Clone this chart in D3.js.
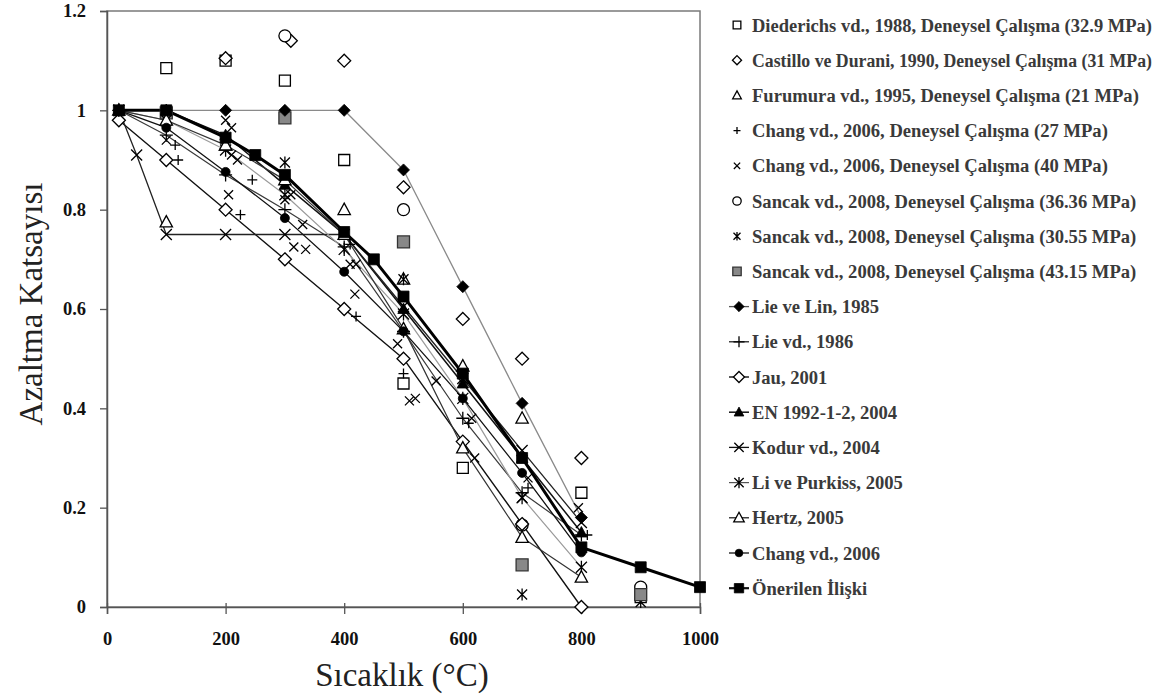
<!DOCTYPE html>
<html>
<head>
<meta charset="utf-8">
<script src="https://cdn.jsdelivr.net/npm/d3@7"></script>
<style>
body { margin: 0; background: #fff; }
svg text { font-family: "Liberation Serif", "Times New Roman", serif; }
</style>
</head>
<body>
<svg id="chart" width="1175" height="697"></svg>
<script>
// Deneysel veriler (sicaklik, azaltma katsayisi)
var diederichs = [[100,1.085],[200,1.10],[300,1.06],[400,0.90],[500,0.45],[600,0.28],[800,0.23],[900,0.02]];
var castillo = [[200,1.105],[310,1.14],[400,1.10],[500,0.845],[600,0.58],[700,0.50],[800,0.30]];
var furumura = [[100,0.775],[200,0.93],[400,0.80],[500,0.66],[600,0.485],[700,0.38]];
var chang27 = [[115,0.93],[120,0.90],[225,0.79],[245,0.86],[410,0.73],[420,0.585],[500,0.47],[610,0.37],[710,0.24],[810,0.145]];
var chang40 = [[100,0.94],[200,0.98],[210,0.965],[210,0.91],[220,0.90],[205,0.83],[300,0.82],[310,0.83],[330,0.77],[315,0.725],[335,0.72],
	[410,0.69],[420,0.69],[418,0.63],[490,0.53],[510,0.415],[520,0.42],[555,0.455],[615,0.38],[620,0.30],[700,0.22],[710,0.26],[795,0.20]];
var sancak36 = [[300,1.15],[500,0.80],[700,0.165],[900,0.04]];
var sancak30 = [[300,0.895],[500,0.66],[700,0.025],[900,0.01]];
var sancak43 = [[100,0.995],[300,0.985],[500,0.735],[700,0.085],[900,0.025]];

// Modeller
var lieLin = [[20,1],[100,1],[200,1],[300,1],[400,1],[500,0.88],[600,0.645],[700,0.41],[800,0.18]];
var lie1986 = [[20,1],[100,0.95],[200,0.87],[300,0.80],[400,0.725],[500,0.555],[600,0.38],[700,0.23],[800,0.145]];
var jau = [[20,0.98],[100,0.90],[200,0.80],[300,0.70],[400,0.60],[500,0.50],[600,0.333],[700,0.167],[800,0.0]];
var en1992 = [[20,1],[100,1],[200,0.95],[300,0.85],[400,0.75],[500,0.60],[600,0.45],[700,0.30],[800,0.15]];
var kodur = [[20,1],[50,0.91],[100,0.75],[200,0.75],[300,0.75],[400,0.75],[500,0.605],[600,0.46],[700,0.315],[800,0.17]];
var liPurkiss = [[20,1],[100,0.98],[200,0.92],[300,0.83],[400,0.72],[500,0.59],[600,0.42],[700,0.22],[800,0.08]];
var hertz = [[20,1],[100,0.98],[200,0.93],[300,0.86],[400,0.75],[500,0.56],[600,0.32],[700,0.14],[800,0.06]];
var changModel = [[20,1],[100,0.965],[200,0.876],[300,0.783],[400,0.675],[500,0.555],[600,0.42],[700,0.27],[800,0.11]];
var onerilen = [[20,1],[100,1],[200,0.945],[250,0.91],[300,0.87],[400,0.755],[450,0.70],[500,0.625],[600,0.47],[700,0.30],[800,0.12],[900,0.08],[1000,0.04]];

var xTicks = [0, 200, 400, 600, 800, 1000];
var yTicks = [0, 0.2, 0.4, 0.6, 0.8, 1, 1.2];

var series = [
	{name: 'Diederichs vd., 1988, Deneysel Çalışma (32.9 MPa)', data: diederichs, m: 'square', s: 5.5, fill: '#fff'},
	{name: 'Castillo ve Durani, 1990, Deneysel Çalışma (31 MPa)', data: castillo, m: 'diamond', s: 6.5, fill: '#fff'},
	{name: 'Furumura vd., 1995, Deneysel Çalışma (21 MPa)', data: furumura, m: 'triangle', s: 6.5, fill: '#fff'},
	{name: 'Chang vd., 2006, Deneysel Çalışma (27 MPa)', data: chang27, m: 'plus', s: 5, fill: 'none'},
	{name: 'Chang vd., 2006, Deneysel Çalışma (40 MPa)', data: chang40, m: 'x', s: 4.5, fill: 'none'},
	{name: 'Sancak vd., 2008, Deneysel Çalışma (36.36 MPa)', data: sancak36, m: 'circle', s: 6, fill: '#fff'},
	{name: 'Sancak vd., 2008, Deneysel Çalışma (30.55 MPa)', data: sancak30, m: 'asterisk', s: 5, fill: 'none'},
	{name: 'Sancak vd., 2008, Deneysel Çalışma (43.15 MPa)', data: sancak43, m: 'square', s: 6, fill: '#888'},
	{name: 'Lie ve Lin, 1985', data: lieLin, m: 'diamond', s: 6, fill: '#000', line: '#8a8a8a', lw: 1.3},
	{name: 'Lie vd., 1986', data: lie1986, m: 'plus', s: 6.5, fill: 'none', line: '#3a3a3a', lw: 1.2},
	{name: 'Jau, 2001', data: jau, m: 'diamond', s: 6.5, fill: '#fff', line: '#111', lw: 1.4},
	{name: 'EN 1992-1-2, 2004', data: en1992, m: 'triangle', s: 6, fill: '#000', line: '#111', lw: 1.5},
	{name: 'Kodur vd., 2004', data: kodur, m: 'x', s: 5.5, fill: 'none', line: '#222', lw: 1.3},
	{name: 'Li ve Purkiss, 2005', data: liPurkiss, m: 'asterisk', s: 5.5, fill: 'none', line: '#9a9a9a', lw: 1.2},
	{name: 'Hertz, 2005', data: hertz, m: 'triangle', s: 6.5, fill: '#fff', line: '#333', lw: 1.2},
	{name: 'Chang vd., 2006', data: changModel, m: 'circle', s: 4.5, fill: '#000', line: '#111', lw: 1.3},
	{name: 'Önerilen İlişki', data: onerilen, m: 'square', s: 5.5, fill: '#000', line: '#000', lw: 3}
];

var svg = d3.select('#chart');
var x = d3.scaleLinear().domain([0, 1000]).range([107, 700]);
var y = d3.scaleLinear().domain([0, 1.2]).range([607, 11]);
var serif = '"Liberation Serif", "Times New Roman", serif';

// marker shapes, s = half size
function markerPath(m, s){
	if (m == 'square') return 'M' + (-s) + ',' + (-s) + 'h' + 2*s + 'v' + 2*s + 'h' + (-2*s) + 'Z';
	if (m == 'diamond') return 'M0,' + (-s) + 'L' + s + ',0L0,' + s + 'L' + (-s) + ',0Z';
	if (m == 'triangle') return 'M0,' + (-s) + 'L' + (0.95*s) + ',' + (0.75*s) + 'L' + (-0.95*s) + ',' + (0.75*s) + 'Z';
	if (m == 'circle') return 'M' + (-s) + ',0a' + s + ',' + s + ' 0 1,0 ' + 2*s + ',0a' + s + ',' + s + ' 0 1,0 ' + (-2*s) + ',0Z';
	if (m == 'plus') return 'M' + (-s) + ',0H' + s + 'M0,' + (-s) + 'V' + s;
	if (m == 'x') return 'M' + (-s) + ',' + (-s) + 'L' + s + ',' + s + 'M' + (-s) + ',' + s + 'L' + s + ',' + (-s);
	// asterisk
	return 'M' + (-s) + ',' + (-s) + 'L' + s + ',' + s + 'M' + (-s) + ',' + s + 'L' + s + ',' + (-s) + 'M0,' + (-1.2*s) + 'V' + (1.2*s);
}

function drawMarker(g, ser, px, py, k){
	var filled = ser.fill == '#000';
	g.append('path')
		.attr('transform', 'translate(' + px + ',' + py + ')')
		.attr('d', markerPath(ser.m, ser.s * k))
		.attr('fill', ser.fill)
		.attr('stroke', ser.fill == '#888' ? '#333' : '#000')
		.attr('stroke-width', filled ? 0.8 : 1.3);
}

// frame + axes
svg.append('rect')
	.attr('x', x(0)).attr('y', y(1.2))
	.attr('width', x(1000) - x(0)).attr('height', y(0) - y(1.2))
	.attr('fill', 'none').attr('stroke', '#7a7a7a').attr('stroke-width', 1.5);

var xAxis = svg.append('g').attr('transform', 'translate(0,' + y(0) + ')')
	.call(d3.axisBottom(x).tickValues(xTicks).tickSize(7).tickFormat(d3.format('d')));
var yAxis = svg.append('g').attr('transform', 'translate(' + x(0) + ',0)')
	.call(d3.axisLeft(y).tickValues(yTicks).tickSize(7).tickFormat(function(d){ return d == 0 || d == 1 ? d : d3.format('.1f')(d); }));

[xAxis, yAxis].forEach(function(a){
	a.select('.domain').attr('stroke', '#555').attr('stroke-width', 1.5);
	a.selectAll('.tick line').attr('stroke', '#555').attr('stroke-width', 1.3);
	a.selectAll('.tick text')
		.attr('fill', '#111')
		.style('font-family', serif)
		.style('font-weight', 'bold')
		.style('font-size', '18.5px');
});
xAxis.selectAll('.tick line').attr('y1', -4);
xAxis.selectAll('.tick text').attr('dy', null).attr('y', 38);
yAxis.selectAll('.tick text').attr('x', -21);

// titles
svg.append('text')
	.attr('x', 402).attr('y', 686)
	.attr('text-anchor', 'middle')
	.style('font-family', serif)
	.style('font-size', '33px')
	.attr('fill', '#222')
	.text('Sıcaklık (°C)');

svg.append('text')
	.attr('transform', 'translate(42,304) rotate(-90)')
	.attr('text-anchor', 'middle')
	.style('font-family', serif)
	.style('font-size', '33px')
	.attr('fill', '#222')
	.text('Azaltma Katsayısı');

// lines of the models
var line = d3.line().x(function(d){ return x(d[0]); }).y(function(d){ return y(d[1]); });
series.forEach(function(ser){
	if (!ser.line) return;
	svg.append('path')
		.datum(ser.data)
		.attr('d', line)
		.attr('fill', 'none')
		.attr('stroke', ser.line)
		.attr('stroke-width', ser.lw)
		.attr('stroke-linejoin', 'round');
});

// markers
var marks = svg.append('g');
series.forEach(function(ser){
	var g = marks.append('g');
	ser.data.forEach(function(d){
		drawMarker(g, ser, x(d[0]), y(d[1]), 1);
	});
});

// legend
var legend = svg.append('g');
series.forEach(function(ser, i){
	var ly = 25 + i * 35.2;
	if (ser.line){
		legend.append('line')
			.attr('x1', 729).attr('x2', 749)
			.attr('y1', ly).attr('y2', ly)
			.attr('stroke', ser.line == '#8a8a8a' || ser.line == '#9a9a9a' ? '#555' : '#111')
			.attr('stroke-width', Math.min(ser.lw, 2.2));
		drawMarker(legend, ser, 739, ly, 0.85);
	}else{
		drawMarker(legend, ser, 737, ly, 0.7);
	}
	var t = legend.append('text')
		.attr('x', 752).attr('y', ly + 6.5)
		.style('font-family', serif)
		.style('font-size', '18.6px')
		.style('font-weight', 'bold')
		.attr('fill', '#3a3a3a')
		.text(ser.name);
	// keep the longest entries inside the picture
	if (t.node().getComputedTextLength() > 400){
		t.attr('textLength', 400).attr('lengthAdjust', 'spacingAndGlyphs');
	}
});
</script>
</body>
</html>
